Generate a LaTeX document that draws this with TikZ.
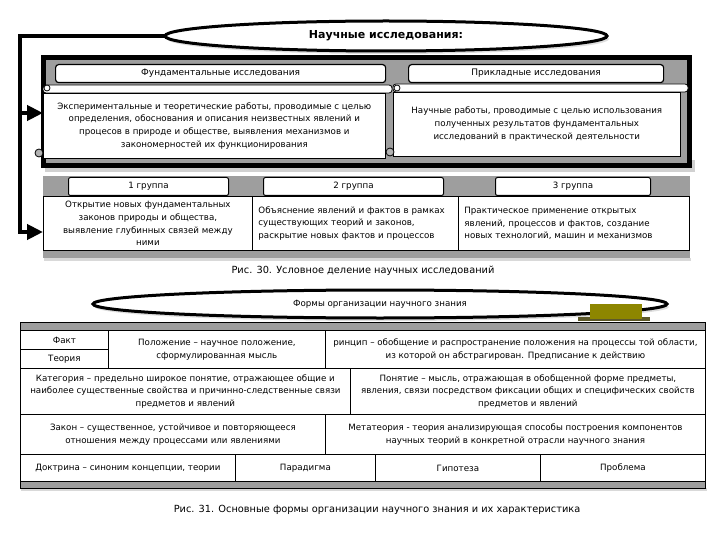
\documentclass[tikz,border=0pt]{standalone}
\usepackage{fontspec}
\setmainfont{DejaVu Sans}
\usepackage{tikz}
\usetikzlibrary{shapes.geometric}
\usetikzlibrary{arrows.meta}
\usetikzlibrary{shadows}
\newcommand\txt{\fontsize{8.7}{12.8}\selectfont}

\begin{document}
\begin{tikzpicture}[x=1pt,y=-1pt,
oval/.style={ellipse,draw,line width=3pt,fill=white,inner sep=0,outer sep=0,
             drop shadow={shadow xshift=2pt,shadow yshift=-3pt,fill=black!25}},
checker/.style={fill=black!38},
head/.style={draw,line width=1.2pt,fill=white,rounded corners=3pt,inner sep=0,
             anchor=north west,minimum height=18,font=\fontsize{9}{11}\selectfont},
scroll/.style={draw,line width=0.6pt,fill=white,inner sep=0,anchor=north west,
               align=center,font=\txt},
curl/.style={circle,draw,line width=0.8pt,fill=white,inner sep=0,minimum size=6pt},
grp/.style={draw,line width=1pt,fill=white,rounded corners=2pt,inner sep=0,
            anchor=north west,minimum height=18,font=\txt},
cell/.style={draw,line width=0.8pt,fill=white,inner sep=0,anchor=north west,
             align=center,font=\txt},
bracket/.style={line width=4.5pt,line join=miter},
arr/.style={line width=4.5pt,-{Triangle[length=16pt,width=15pt]}},
podpis/.style={inner sep=0,font=\fontsize{9.8}{11}\selectfont}]
\useasboundingbox[fill=white] (0,0) rectangle (720,540);
%==================
\node[oval,minimum width=442,minimum height=30] (nauch) at (386,36)
     {\fontsize{11}{13}\selectfont\bfseries Научные исследования:};
%==================
\fill[black!18] (45,160) rectangle (695,172);
\fill (41,55) rectangle (692,168);
\fill[checker] (46,60) rectangle (687,163);
\node[head,minimum width=330] (fundh) at (55,64) {Фундаментальные исследования};
\node[head,minimum width=255] (priklh) at (408,64) {Прикладные  исследования};
\draw[fill=white,rounded corners=3,line width=0.8] (43,85) rectangle (392,93);
\node[scroll,minimum width=342,minimum height=65] (fund) at (43,93)
     {Экспериментальные и теоретические работы, проводимые с целью\\
      определения, обоснования и описания неизвестных явлений и\\
      процесов в природе и обществе, выявления механизмов и\\
      закономерностей их функционирования};
\draw[fill=white,rounded corners=3,line width=0.8] (393,84) rectangle (688,92);
\node[scroll,minimum width=287,minimum height=64] (prikl) at (393,92)
     {Научные  работы, проводимые с целью использования\\
      полученных результатов фундаментальных\\
      исследований в практической деятельности};
\node[curl] (c1) at (47,88) {};
\node[curl,fill=black!30,minimum size=8pt] (c2) at (39,153) {};
\node[curl] (c3) at (397,88) {};
\node[curl,fill=black!30,minimum size=8pt] (c4) at (390,152) {};
% ===================
\fill[black!15] (44,258) rectangle (691,261);
\fill[checker] (43,176) rectangle (690,258);
\foreach \i/\x/\w in {1/68/160,2/263/180,3/495/155}{
\node[grp,minimum width=\w] (g\i) at (\x,177) {\i\ группа};
}
\node[cell,minimum width=209,minimum height=54] (t1) at (43,196)
     {Открытие новых фундаментальных\\ законов природы и общества,\\
      выявление глубинных связей между\\ ними};
\node[cell,align=left,text width=194,inner xsep=6,minimum height=54] (t2) at (252,196)
     {Объяснение явлений и фактов в рамках\\ существующих теорий и законов,\\
      раскрытие новых фактов и процессов};
\node[cell,align=left,text width=219,inner xsep=6,minimum height=54] (t3) at (458,196)
     {Практическое применение открытых\\ явлений, процессов  и фактов, создание\\
      новых технологий, машин и механизмов};
% ===================
\coordinate (ugol) at (20,36);
\coordinate (niz) at (20,234);
\coordinate (s1) at (20,113);
\coordinate (s2) at (20,232);
\draw[bracket] (nauch.west) -- (ugol) -- (niz);
\draw[arr] (s1) -- (s1 -| fund.west);
\draw[arr] (s2) -- (s2 -| t1.west);
\node[podpis] (ris30) at (363,271) {Рис. 30. Условное деление научных исследований};
%==================
\node[oval,minimum width=574,minimum height=28] (formy) at (380,304)
     {\txt Формы организации научного знания};
\fill[olive!55!black] (578,317) rectangle (650,321);
\node[fill=olive,inner sep=0,anchor=north west,minimum width=52,minimum height=15] (plashka) at (590,304) {};
% ===================
\fill[black!15] (21,488) rectangle (707,491);
\draw[checker,line width=0.6] (20,322) rectangle (705,330);
\draw[checker,line width=0.6] (20,481) rectangle (705,488);
\node[cell,minimum width=88,minimum height=19] (fakt) at (20,330) {Факт};
\node[cell,minimum width=88,minimum height=19] (teor) at (20,349) {Теория};
\node[cell,minimum width=217,minimum height=38] (polozh) at (108,330)
     {Положение – научное положение,\\ сформулированная мысль};
\node[cell,minimum width=380,minimum height=38] (princ) at (325,330)
     {ринцип – обобщение и распространение положения на процессы той области,\\
      из которой он абстрагирован. Предписание к действию};
\node[cell,minimum width=330,minimum height=46] (kateg) at (20,368)
     {Категория – предельно широкое понятие, отражающее общие и\\
      наиболее существенные свойства и причинно-следственные связи\\
      предметов и явлений};
\node[cell,minimum width=355,minimum height=46] (ponyat) at (350,368)
     {Понятие – мысль, отражающая в обобщенной форме предметы,\\
      явления, связи посредством фиксации общих и специфических свойств\\
      предметов и явлений};
\node[cell,minimum width=305,minimum height=40] (zakon) at (20,414)
     {Закон – существенное, устойчивое и повторяющееся\\
      отношения между процессами или явлениями};
\node[cell,minimum width=380,minimum height=40] (meta) at (325,414)
     {Метатеория - теория анализирующая способы построения компонентов\\
      научных теорий в конкретной отрасли научного знания};
\foreach \n/\x/\w/\t in {doktr/20/215/{Доктрина – синоним концепции, теории},
    parad/235/140/Парадигма,gipot/375/165/Гипотеза,probl/540/165/Проблема}{
\node[cell,minimum width=\w,minimum height=27] (\n) at (\x,454) {\t};
}
\node[podpis] (ris31) at (377,510)
     {Рис. 31. Основные формы организации научного знания и их характеристика};
\end{tikzpicture}
\end{document}
